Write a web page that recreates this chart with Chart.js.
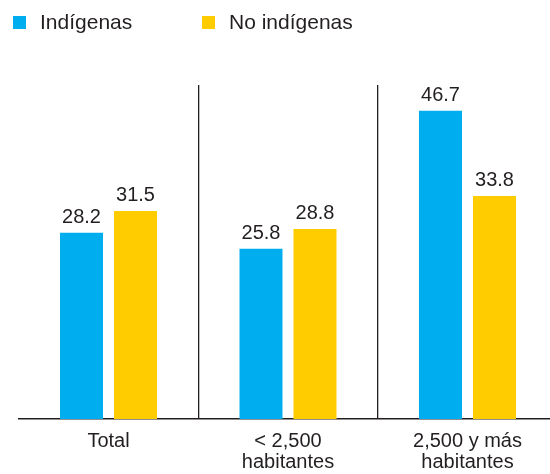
<!DOCTYPE html>
<html>
<head>
<meta charset="utf-8">
<script src="https://cdn.jsdelivr.net/npm/chart.js@4/dist/chart.umd.min.js"></script>
<style>
    body { margin: 0; background: #fff; overflow: hidden; }
    #wrap { position: relative; width: 560px; height: 474px; }
    #legend { position: absolute; left: 0; top: 0; font-family: 'Liberation Sans', Arial, sans-serif; font-size: 21px; line-height: 21px; color: #231f20; }
    .item { position: absolute; top: 11px; white-space: nowrap; }
    .box { position: absolute; top: 5px; width: 13px; height: 13px; }
</style>
</head>
<body>
<div id="wrap">
    <canvas id="chart" width="560" height="474"></canvas>
    <div id="legend"></div>
</div>
<script>
// Data
const categories = ['Total', ['< 2,500', 'habitantes'], ['2,500 y más', 'habitantes']];
const seriesNames = ['Indígenas', 'No indígenas'];
const indigenas = [28.2, 25.8, 46.7];
const noIndigenas = [31.5, 28.8, 33.8];
const seriesColors = ['#00aeef', '#ffcc00'];

const textColor = '#231f20';
const fontFamily = "'Liberation Sans', Arial, sans-serif";

// HTML legend built from the series names and colours
var legendEl = document.getElementById('legend');
var legendLeft = [13, 202];
seriesNames.forEach(function(name, i) {
    var item = document.createElement('div');
    item.className = 'item';
    item.style.left = legendLeft[i] + 'px';
    var box = document.createElement('span');
    box.className = 'box';
    box.style.background = seriesColors[i];
    var label = document.createElement('span');
    label.textContent = name;
    label.style.marginLeft = '27px';
    item.appendChild(box);
    item.appendChild(label);
    legendEl.appendChild(item);
});

// Value labels above each bar
const valueLabels = {
    id: 'valueLabels',
    afterDatasetsDraw: function(chart) {
        var ctx = chart.ctx;
        ctx.save();
        ctx.font = '20px ' + fontFamily;
        ctx.fillStyle = textColor;
        ctx.textAlign = 'center';
        ctx.textBaseline = 'alphabetic';
        chart.data.datasets.forEach(function(ds, di) {
            chart.getDatasetMeta(di).data.forEach(function(bar, i) {
                ctx.fillText(ds.data[i].toFixed(1), bar.x, bar.y - 10);
            });
        });
        ctx.restore();
    }
};

var ctx = document.getElementById('chart').getContext('2d');
var chart = new Chart(ctx, {
    type: 'bar',
    data: {
        labels: categories,
        datasets: [
            { label: seriesNames[0], data: indigenas, backgroundColor: seriesColors[0] },
            { label: seriesNames[1], data: noIndigenas, backgroundColor: seriesColors[1] }
        ]
    },
    options: {
        responsive: false,
        animation: false,
        devicePixelRatio: 1,
        categoryPercentage: 0.6017,
        barPercentage: 0.7963,
        layout: { padding: { top: 85, left: 18.75, right: 2.75, bottom: 0 } },
        plugins: {
            legend: { display: false },
            tooltip: { enabled: false }
        },
        scales: {
            x: {
                afterFit: function(scale) { scale.height = 55; },
                border: { display: true, color: '#231f20', width: 1.5 },
                grid: {
                    offset: true,
                    drawTicks: false,
                    lineWidth: 1.3,
                    // only the two separators between groups
                    color: function(c) {
                        return (c.index === 1 || c.index === 2) ? '#231f20' : 'rgba(0,0,0,0)';
                    }
                },
                ticks: {
                    padding: 12,
                    maxRotation: 0,
                    autoSkip: false,
                    color: textColor,
                    font: { family: fontFamily, size: 20, lineHeight: 1.05 }
                }
            },
            y: {
                display: false,
                min: 0,
                max: 50.6
            }
        }
    },
    plugins: [valueLabels]
});
</script>
</body>
</html>
